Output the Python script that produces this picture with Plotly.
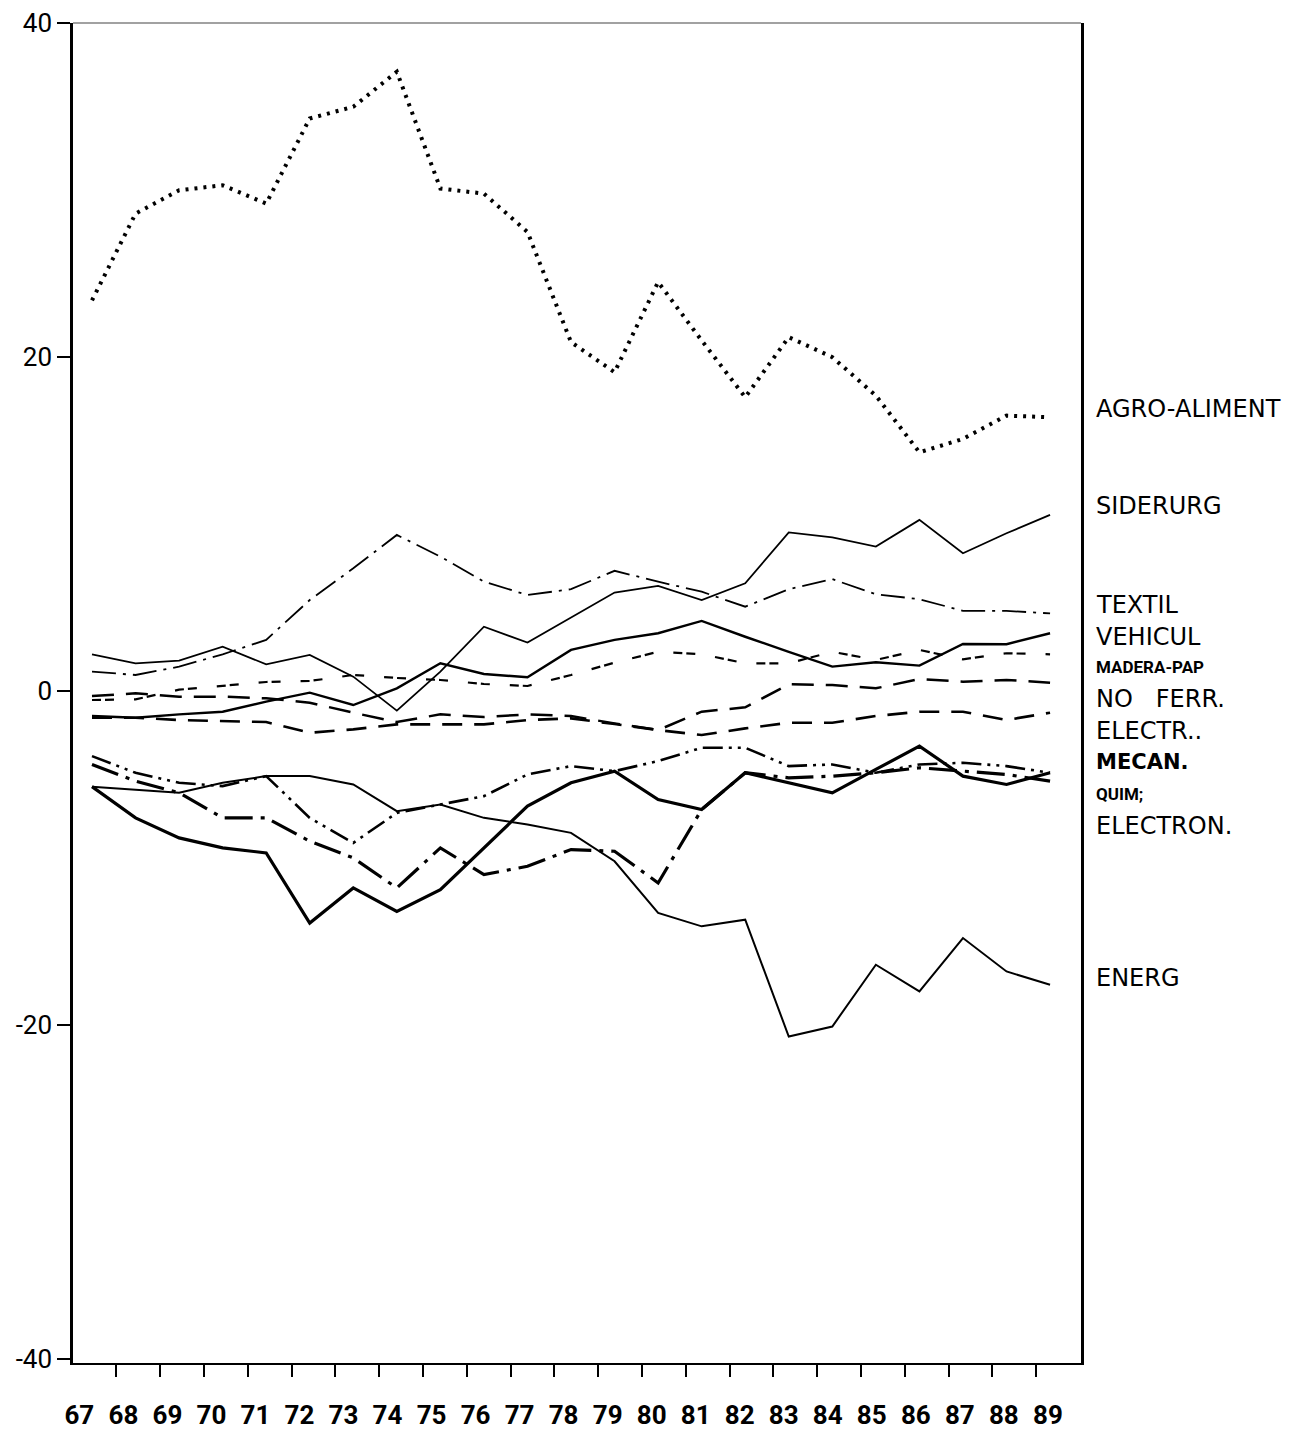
import plotly.graph_objects as go

# ---------------- data ----------------
years = list(range(67, 90))
year_labels = [str(y) for y in years]

agro_aliment = [23.4, 28.6, 30.0, 30.3, 29.2, 34.3, 35.0, 37.1, 30.1, 29.8, 27.5, 20.9,
                19.1, 24.5, 21.0, 17.6, 21.2, 20.0, 17.7, 14.3, 15.1, 16.5, 16.4]
siderurg = [2.2, 1.66, 1.82, 2.65, 1.6, 2.16, 0.86, -1.18, 1.16, 3.85, 2.9, 4.4,
            5.9, 6.3, 5.45, 6.45, 9.5, 9.2, 8.65, 10.25, 8.25, 9.45, 10.55]
textil = [1.16, 0.96, 1.46, 2.2, 3.06, 5.45, 7.35, 9.35, 8.05, 6.55, 5.75, 6.1,
          7.2, 6.55, 5.95, 5.05, 6.1, 6.7, 5.8, 5.5, 4.8, 4.8, 4.65]
vehicul = [-1.5, -1.6, -1.4, -1.24, -0.64, -0.1, -0.84, 0.16, 1.66, 1.02, 0.82, 2.46,
           3.06, 3.46, 4.2, 3.25, 2.35, 1.46, 1.72, 1.52, 2.82, 2.8, 3.46]
madera_pap = [-0.54, -0.5, 0.08, 0.3, 0.54, 0.6, 0.96, 0.78, 0.66, 0.42, 0.3, 0.96,
              1.7, 2.35, 2.2, 1.66, 1.66, 2.35, 1.86, 2.46, 1.9, 2.26, 2.2]
no_ferr = [-0.3, -0.14, -0.34, -0.34, -0.44, -0.7, -1.3, -1.86, -1.4, -1.56, -1.4, -1.5,
           -1.94, -2.34, -1.24, -0.98, 0.4, 0.36, 0.16, 0.72, 0.56, 0.66, 0.5]
electr = [-1.6, -1.6, -1.74, -1.8, -1.86, -2.5, -2.3, -2.0, -2.0, -2.0, -1.74, -1.64,
          -1.98, -2.34, -2.64, -2.24, -1.9, -1.9, -1.5, -1.24, -1.24, -1.74, -1.3]
mecan = [-5.73, -7.6, -8.8, -9.4, -9.7, -13.9, -11.8, -13.2, -11.9, -9.4, -6.9, -5.5,
         -4.8, -6.5, -7.1, -4.9, -5.5, -6.1, -4.7, -3.3, -5.1, -5.6, -4.9]
quim = [-3.9, -4.9, -5.5, -5.7, -5.1, -7.6, -9.1, -7.3, -6.8, -6.3, -5.0, -4.5,
        -4.8, -4.2, -3.4, -3.4, -4.5, -4.4, -4.9, -4.4, -4.3, -4.5, -4.9]
electron = [-4.4, -5.4, -6.1, -7.6, -7.6, -9.0, -10.0, -11.8, -9.4, -11.0, -10.5, -9.5,
            -9.6, -11.5, -7.1, -4.9, -5.2, -5.1, -4.9, -4.6, -4.8, -5.0, -5.4]
energ = [-5.73, -5.9, -6.1, -5.5, -5.1, -5.1, -5.6, -7.2, -6.8, -7.6, -8.0, -8.5,
         -10.2, -13.3, -14.1, -13.7, -20.7, -20.1, -16.4, -18.0, -14.8, -16.8, -17.6]

y_tick_values = [-40, -20, 0, 20, 40]
y_tick_labels = ["-40", "-20", "0", "20", "40"]

# right-hand series labels and the level they are written at
label_texts = ["AGRO-ALIMENT", "SIDERURG", "TEXTIL", "VEHICUL", "MADERA-PAP",
               "NO\u00a0\u00a0\u00a0FERR.", "ELECTR..", "MECAN.", "QUIM;", "ELECTRON.", "ENERG"]
label_levels = [16.9, 11.1, 5.15, 3.24, 1.44, -0.48, -2.4, -4.25, -6.2, -8.1, -17.2]

# ---------------- styles ----------------
series = [
    (agro_aliment, dict(width=4, dash="3px,6px")),
    (siderurg, dict(width=1.8, dash="solid")),
    (textil, dict(width=1.8, dash="24px,7px,3px,7px")),
    (vehicul, dict(width=2.4, dash="solid")),
    (madera_pap, dict(width=2.2, dash="9px,4px,9px,20px")),
    (no_ferr, dict(width=2.5, dash="22px,12px")),
    (electr, dict(width=2.6, dash="20px,12px")),
    (mecan, dict(width=3.2, dash="solid")),
    (quim, dict(width=2.6, dash="20px,6px,3px,6px,3px,6px")),
    (electron, dict(width=3.2, dash="28px,8px,4px,8px")),
    (energ, dict(width=2.0, dash="solid")),
]

reg = dict(family="DejaVu Sans", size=24)
cond_bold = dict(family="Roboto, Liberation Sans", size=17, weight="bold")
label_fonts = [reg, reg, reg, reg, cond_bold, reg, reg,
               dict(family="DejaVu Sans", size=21, weight="bold"),
               cond_bold, reg, reg]

fig = go.Figure()
for vals, st in series:
    fig.add_trace(go.Scatter(
        x=years, y=vals, mode="lines",
        line=dict(color="black", width=st["width"], dash=st["dash"]),
        showlegend=False, hoverinfo="skip",
    ))

# layout geometry (the page body has an 8px margin, so the figure is offset by 8px)
PAGE_OFF = 8
W, H = 1297 - PAGE_OFF, 1429 - PAGE_OFF
left_px, right_px, top_px, bottom_px = 72.5 - PAGE_OFF, 1081 - PAGE_OFF, 23 - PAGE_OFF, 1363 - PAGE_OFF
px_per_year = 43.57
x0_px = 91.5 - PAGE_OFF  # where the first year sits
xr0 = years[0] - (x0_px - left_px) / px_per_year
xr1 = years[0] + (right_px - x0_px) / px_per_year
label_x_paper = ((1094 - PAGE_OFF) - left_px) / (right_px - left_px)

for txt, lvl, fnt in zip(label_texts, label_levels, label_fonts):
    fnt = dict(fnt)
    fnt["color"] = "black"
    fig.add_annotation(
        x=label_x_paper, xref="paper", y=lvl, yref="y", text=txt,
        showarrow=False, xanchor="left", yanchor="middle", font=fnt,
    )

# faint top border of the frame
fig.add_shape(type="line", xref="paper", yref="paper", x0=0, x1=1, y0=1, y1=1,
              line=dict(color="#444444", width=1.2))

# tick labels and tick marks sit off the data years in the original plot
n = len(years)
lab_first, lab_last = years[0] - 0.29, years[-1] - 0.05
label_pos = [lab_first + i * (lab_last - lab_first) / (n - 1) for i in range(n)]
tk_first, tk_last = years[0] + 0.56, years[-2] + 0.68
tick_pos = [tk_first + i * (tk_last - tk_first) / (n - 2) for i in range(n - 1)]

fig.update_layout(
    width=W, height=H,
    margin=dict(l=left_px, r=W - right_px, t=top_px, b=H - bottom_px, pad=0, autoexpand=False),
    plot_bgcolor="white", paper_bgcolor="white",
    font=dict(family="DejaVu Sans", color="black"),
)
fig.update_xaxes(
    range=[xr0, xr1], showgrid=False, zeroline=False, automargin=False,
    showline=True, linecolor="black", linewidth=2, mirror=False,
    tickmode="array", tickvals=label_pos, ticktext=year_labels,
    ticks="", ticklabelstandoff=28,
    tickfont=dict(family="Roboto, Liberation Sans", size=26, weight="bold"),
    minor=dict(tickmode="array", tickvals=tick_pos, ticks="outside", ticklen=12,
               tickwidth=2, tickcolor="black", showgrid=False),
)
fig.update_yaxes(
    range=[-40.26, 40.02], showgrid=False, zeroline=False, automargin=False,
    showline=True, linecolor="black", linewidth=2.5, mirror=True,
    tickmode="array", tickvals=y_tick_values, ticktext=y_tick_labels,
    ticks="outside", ticklen=13, tickwidth=2, tickcolor="black",
    tickfont=dict(family="Roboto, Liberation Sans", size=26),
)

fig.write_html("out.html")
